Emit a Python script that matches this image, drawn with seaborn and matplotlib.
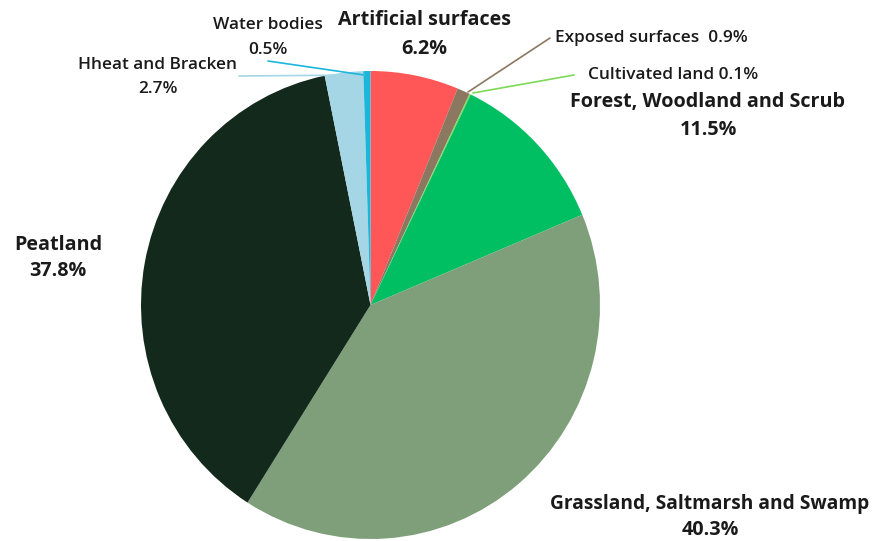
import matplotlib
matplotlib.use("Agg")
import matplotlib.pyplot as plt
import seaborn as sns

categories = ["Artificial surfaces", "Exposed surfaces", "Cultivated land",
              "Forest, Woodland and Scrub", "Grassland, Saltmarsh and Swamp",
              "Peatland", "Hheat and Bracken", "Water bodies"]
shares = [6.2, 0.9, 0.1, 11.5, 40.3, 37.8, 2.7, 0.5]
colors = ["#FF5757", "#8C7860", "#7ED957", "#00BF63", "#7E9F7A",
          "#12291C", "#A5D6E6", "#1BB6DA"]

sns.set_theme(style="white")
plt.rcParams["font.family"] = ["Open Sans", "DejaVu Sans"]

W, H = 876, 541
fig = plt.figure(figsize=(W / 100, H / 100), dpi=100)
# pie box in pixels: left 141, right 600, top 71, bottom 539
ax = fig.add_axes([141 / W, (H - 539) / H, 459 / W, 468 / H])
ax.pie(shares, colors=colors, startangle=90, counterclock=False,
       radius=1, wedgeprops=dict(linewidth=0))
ax.set_xlim(-1, 1)
ax.set_ylim(-1, 1)
ax.set_aspect("auto")
ax.axis("off")


def fx(x):
    return x / W


def fy(y):
    return 1 - y / H


def label(x, y, s, size, weight="bold", ha="center"):
    fig.text(fx(x), fy(y), s, ha=ha, va="center", fontsize=size,
             fontweight=weight, color="#1a1a1a")


def pct(v):
    return f"{v}%"


big = 14.2
small = 12.4
label(424, 20, categories[0], big)
label(424, 49, pct(shares[0]), big)
label(555, 38, f"{categories[1]}  {pct(shares[1])}", small, weight="semibold", ha="left")
label(588, 75, f"{categories[2]} {pct(shares[2])}", small, weight="semibold", ha="left")
label(708, 102, categories[3], big)
label(708, 130, pct(shares[3]), big)
label(710, 504, categories[4], 13.8)
label(710, 530, pct(shares[4]), big)
label(58, 245, categories[5], big)
label(58, 271, pct(shares[5]), big)
label(158, 65, categories[6], small, weight="semibold")
label(158, 89, pct(shares[6]), small, weight="semibold")
label(268, 25, categories[7], small, weight="semibold")
label(268, 50, pct(shares[7]), small, weight="semibold")

# leader lines
lines = [((468, 92), (550, 38), colors[1]),
         ((473, 93), (574, 75), colors[2]),
         ((239, 76), (364, 75), colors[6]),
         ((268, 61), (364, 75), colors[7])]
for (x0, y0), (x1, y1), c in lines:
    fig.add_artist(plt.Line2D([fx(x0), fx(x1)], [fy(y0), fy(y1)],
                              color=c, linewidth=1.2))

fig.savefig("out.png", dpi=100)
